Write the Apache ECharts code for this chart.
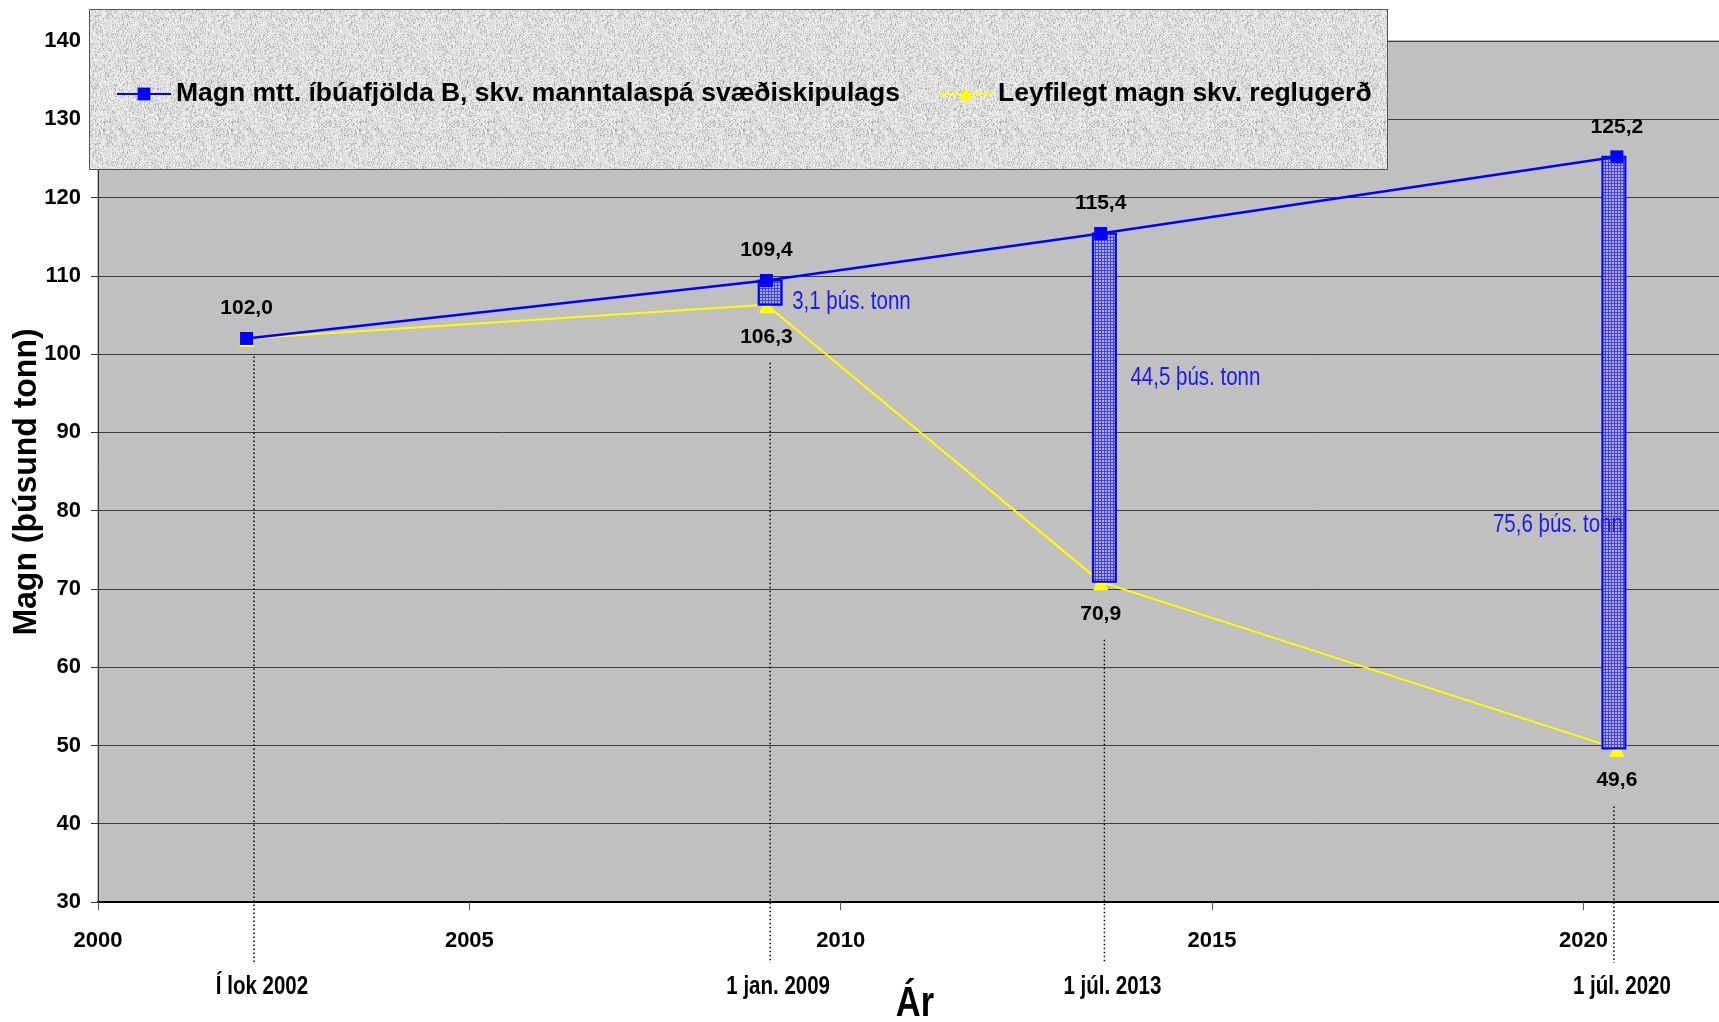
<!DOCTYPE html>
<html>
<head>
<meta charset="utf-8">
<script src="https://cdn.jsdelivr.net/npm/echarts@6/dist/echarts.min.js"></script>
<style>
  html, body { margin: 0; padding: 0; background: #ffffff; }
  #chart { width: 1719px; height: 1022px; }
</style>
</head>
<body>
<div id="chart"></div>
<script>
// ---------------- data ----------------
const seriesNames = ['Magn mtt. íbúafjölda B, skv. manntalaspá svæðiskipulags', 'Leyfilegt magn skv. reglugerð'];
const pointYears = [2002.0, 2009.0, 2013.5, 2020.45];
const dateYears = [2002.1, 2009.05, 2013.55, 2020.41];
const dateLabels = ['Í lok 2002', '1 jan. 2009', '1 júl. 2013', '1 júl. 2020'];
const blueValues = [102.0, 109.4, 115.4, 125.2];
const yellowValues = [102.0, 106.3, 70.9, 49.6];
const xTicks = [2000, 2005, 2010, 2015, 2020];
const yAxisTitle = 'Magn (þúsund tonn)';
const xAxisTitle = 'Ár';
const unitText = ' þús. tonn';

// ---------------- styles ----------------
const FONT = "'Liberation Sans', Arial, sans-serif";
const NARROW_SCALE = 0.82;
const fmt = v => v.toFixed(1).replace('.', ',');

// hatch pattern for the difference bars
const hatch = document.createElement('canvas');
hatch.width = 3; hatch.height = 3;
(function () {
  const g = hatch.getContext('2d');
  g.fillStyle = '#b0b0da'; g.fillRect(0, 0, 3, 3);
  g.fillStyle = '#4040f2'; g.fillRect(0, 0, 3, 1); g.fillRect(0, 0, 1, 3);
})();

// stone texture for the legend box (deterministic hash)
const stone = document.createElement('canvas');
stone.width = 128; stone.height = 128;
(function () {
  const g = stone.getContext('2d');
  const img = g.createImageData(128, 128);
  for (let y = 0; y < 128; y++) {
    for (let x = 0; x < 128; x++) {
      let h = Math.sin(x * 12.9898 + y * 78.233) * 43758.5453; h -= Math.floor(h);
      let h2 = Math.sin(x * 39.346 + Math.floor(y / 3) * 11.135) * 24634.6345; h2 -= Math.floor(h2);
      const v = Math.round(240 - h * h * h * 55 - h2 * h2 * h2 * h2 * 35);
      const i = (y * 128 + x) * 4;
      img.data[i] = v; img.data[i + 1] = v; img.data[i + 2] = v; img.data[i + 3] = 255;
    }
  }
  g.putImageData(img, 0, 0);
})();

const LABEL_OFFSETS = [[22, 9, 'left'], [26, -30, 'left'], [9, 72, 'right']];

const chart = echarts.init(document.getElementById('chart'), null, { renderer: 'canvas' });

const blueData = pointYears.map((x, i) => [x, blueValues[i]]);
const yellowData = pointYears.map((x, i) => [x, yellowValues[i]]);
const barData = [];
for (let i = 1; i < dateYears.length; i++) barData.push([dateYears[i], yellowValues[i], blueValues[i]]);
const dropData = dateYears.map((x, i) => [x, yellowValues[i], i]);

chart.setOption({
  animation: false,
  backgroundColor: '#ffffff',
  grid: {
    left: 98, top: 41, right: -13, bottom: 120,
    outerBoundsMode: 'none', containLabel: false,
    show: true, backgroundColor: '#c0c0c0', borderColor: '#7a7a7a', borderWidth: 1
  },
  graphic: [
    {
      type: 'rect', z: 5, silent: true,
      shape: { x: 89.5, y: 9.5, width: 1298, height: 160 },
      style: { fill: { image: stone, repeat: 'repeat' }, stroke: '#555555', lineWidth: 1 }
    },
    {
      type: 'text', z: 5, silent: true, x: 27, y: 482, rotation: Math.PI / 2, scaleX: 0.94,
      style: {
        text: yAxisTitle, fill: '#000', font: "bold 34px " + FONT,
        align: 'center', verticalAlign: 'middle'
      }
    },
    {
      type: 'text', z: 5, silent: true, x: 915, y: 1004, scaleX: NARROW_SCALE,
      style: {
        text: xAxisTitle, fill: '#000', font: "bold 42px " + FONT,
        align: 'center', verticalAlign: 'middle'
      }
    }
  ],
  legend: {
    z: 10,
    left: 111, top: 74,
    itemGap: 38, itemWidth: 54, itemHeight: 16,
    data: seriesNames,
    textStyle: { fontFamily: FONT, fontWeight: 'bold', fontSize: 26.5, color: '#000', lineHeight: 30 }
  },
  xAxis: {
    type: 'value', min: 2000, max: 2022, interval: 5,
    axisLine: { show: true, lineStyle: { color: '#000', width: 2 } },
    axisTick: { show: true, length: 8, lineStyle: { color: '#555' } },
    splitLine: { show: false },
    axisLabel: {
      margin: 28, color: '#000', fontFamily: FONT, fontWeight: 'bold', fontSize: 22,
      showMaxLabel: false,
      formatter: v => (xTicks.indexOf(v) >= 0 ? String(v) : '')
    }
  },
  yAxis: {
    type: 'value', min: 30, max: 140, interval: 10,
    axisLine: { show: true, lineStyle: { color: '#333', width: 1 } },
    axisTick: { show: true, length: 7, lineStyle: { color: '#333' } },
    splitLine: { show: true, lineStyle: { color: '#3c3c3c', width: 1 } },
    axisLabel: { margin: 17, color: '#000', fontFamily: FONT, fontWeight: 'bold', fontSize: 22 }
  },
  series: [
    {
      name: seriesNames[1], type: 'line', z: 2,
      data: yellowData,
      lineStyle: { color: '#ffff00', width: 2 },
      itemStyle: { color: '#ffff00' },
      symbol: 'triangle', symbolSize: [15, 17],
      label: {
        show: true, position: 'bottom', distance: 13,
        color: '#000', fontFamily: FONT, fontWeight: 'bold', fontSize: 21,
        formatter: p => (p.dataIndex === 0 ? '' : fmt(p.value[1]))
      }
    },
    {
      type: 'custom', z: 3, silent: true, clip: false,
      data: barData,
      encode: { x: 0, y: [1, 2] },
      renderItem: function (params, api) {
        const x = api.value(0), lo = api.value(1), hi = api.value(2);
        const pt = api.coord([x, hi]), pb = api.coord([x, lo]);
        const off = LABEL_OFFSETS[params.dataIndex];
        return {
          type: 'group',
          children: [
            {
              type: 'rect',
              shape: { x: pt[0] - 11.5, y: pt[1], width: 23, height: pb[1] - pt[1] },
              style: { fill: { image: hatch, repeat: 'repeat' }, stroke: '#0000ff', lineWidth: 2 }
            },
            {
              type: 'text', x: pt[0] + off[0], y: (pt[1] + pb[1]) / 2 + off[1], scaleX: NARROW_SCALE,
              style: {
                text: fmt(hi - lo) + unitText, fill: '#1a1ae8',
                font: "25px " + FONT, align: off[2], verticalAlign: 'middle'
              }
            }
          ]
        };
      }
    },
    {
      type: 'custom', z: 1, silent: true, clip: false,
      data: dropData,
      encode: { x: 0, y: 1 },
      renderItem: function (params, api) {
        const x = api.value(0), v = api.value(1), idx = api.value(2);
        const p = api.coord([x, v]);
        const base = api.coord([x, 30]);
        const startY = p[1] + (idx === 0 ? 18 : 58);
        return {
          type: 'group',
          children: [
            {
              type: 'line',
              shape: { x1: p[0], y1: startY, x2: p[0], y2: base[1] + 61 },
              style: { stroke: '#000', lineWidth: 1.5, lineDash: [1.5, 2.5] }
            },
            {
              type: 'text', x: p[0] + 8, y: base[1] + 85, scaleX: NARROW_SCALE,
              style: {
                text: dateLabels[idx], fill: '#000', font: "bold 25px " + FONT,
                align: 'center', verticalAlign: 'middle'
              }
            }
          ]
        };
      }
    },
    {
      name: seriesNames[0], type: 'line', z: 4,
      data: blueData,
      lineStyle: { color: '#0000ff', width: 2.5 },
      itemStyle: { color: '#0000ff' },
      symbol: 'rect', symbolSize: 13,
      label: {
        show: true, position: 'top', distance: 13,
        color: '#000', fontFamily: FONT, fontWeight: 'bold', fontSize: 21,
        formatter: p => fmt(p.value[1])
      }
    }
  ]
});
</script>
</body>
</html>
